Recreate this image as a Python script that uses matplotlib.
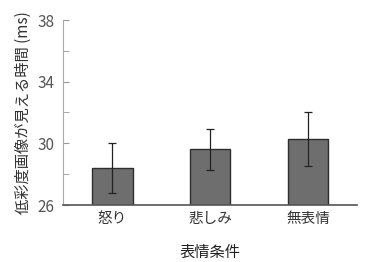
import matplotlib
matplotlib.use('Agg')
import matplotlib.pyplot as plt
import numpy as np

plt.rcParams['font.family'] = ['Noto Sans CJK JP', 'DejaVu Sans']

# Data
conditions = ['怒り', '悲しみ', '無表情']
means = [28.4, 29.6, 30.25]
errors = [1.6, 1.3, 1.75]

fig = plt.figure(figsize=(3.86, 2.62), dpi=100)
ax = fig.add_axes([63/386, 1 - 205/262, (357-63)/386, (205-20)/262])

x = np.arange(len(conditions))
ax.bar(x, [m - 26 for m in means], bottom=26, width=0.41, color='#6e6e6e',
       edgecolor='#2e2e2e', linewidth=1.0, zorder=2)
ax.errorbar(x, means, yerr=errors, fmt='none', ecolor='#222222', elinewidth=0.9,
            capsize=3, capthick=0.9, zorder=3)

ax.set_xlim(-0.506, 2.5)
ax.set_ylim(26, 38)
ax.set_yticks([26, 30, 34, 38])
ax.set_yticks([28, 32, 36], minor=True)
ax.tick_params(axis='y', which='both', direction='in', length=4, color='#999999',
               labelcolor='#555555', labelsize=11, pad=6)
ax.set_xticks(x)
ax.set_xticklabels(conditions, fontsize=10.5, color='#333333')
ax.tick_params(axis='x', length=0, pad=5)

for s in ['top', 'right']:
    ax.spines[s].set_visible(False)
ax.spines['left'].set_color('#aaaaaa')
ax.spines['bottom'].set_color('#555555')
ax.spines['bottom'].set_linewidth(1.2)

ax.set_xlabel('表情条件', fontsize=11, color='#222222', labelpad=13)
ax.set_ylabel('低彩度画像が見える時間 (ms)', fontsize=11, color='#333333', labelpad=4)

fig.savefig('out.png', dpi=100)
